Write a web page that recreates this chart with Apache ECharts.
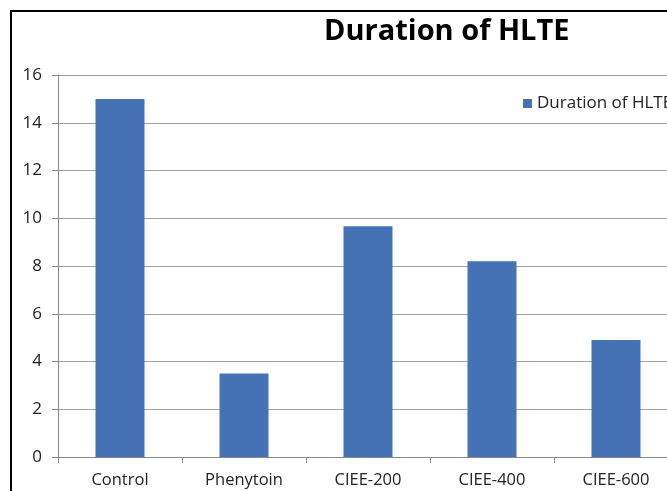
<!DOCTYPE html>
<html>
<head>
<meta charset="utf-8">
<script src="https://cdn.jsdelivr.net/npm/echarts@6/dist/echarts.min.js"></script>
<style>
  html, body { margin: 0; padding: 0; background: #fff; }
  #chart { width: 667px; height: 491px; }
</style>
</head>
<body>
<div id="chart"></div>
<script>
const categories = ["Control", "Phenytoin", "CIEE-200", "CIEE-400", "CIEE-600"];
const durationValues = [15, 3.5, 9.67, 8.2, 4.9];
const seriesName = "Duration of HLTE";

const chart = echarts.init(document.getElementById("chart"), null, { renderer: "canvas" });

const font = "'Open Sans', sans-serif";

const option = {
  animation: false,
  title: {
    text: "Duration of HLTE",
    left: 319,
    top: 12,
    textStyle: { fontFamily: font, fontSize: 29, fontWeight: "bold", color: "#000" },
  },
  legend: {
    left: 518,
    top: 90,
    itemWidth: 9,
    itemHeight: 9,
    itemGap: 8,
    textStyle: { fontFamily: font, fontSize: 17, color: "#222" },
    data: [{ name: seriesName, icon: "rect" }],
  },
  grid: { left: 58, top: 75, right: -11, bottom: 34, outerBoundsMode: "none", containLabel: false },
  xAxis: {
    type: "category",
    data: categories,
    axisLine: { lineStyle: { color: "#888", width: 1 } },
    axisTick: { show: true, length: 6, lineStyle: { color: "#888" } },
    axisLabel: { fontFamily: font, fontSize: 16.5, color: "#222", margin: 15 },
  },
  yAxis: {
    type: "value",
    min: 0,
    max: 16,
    interval: 2,
    axisLine: { show: true, lineStyle: { color: "#888" } },
    axisTick: { show: true, length: 6, lineStyle: { color: "#888" } },
    axisLabel: { fontFamily: font, fontSize: 17, color: "#222", margin: 16 },
    splitLine: { lineStyle: { color: "#a0a0a0", width: 1 } },
  },
  series: [
    {
      name: seriesName,
      type: "bar",
      data: durationValues,
      barWidth: 49,
      itemStyle: { color: "#4572B4" },
    },
  ],
  graphic: [
    {
      type: "rect",
      shape: { x: 11, y: 11, width: 700, height: 520 },
      style: { fill: "none", stroke: "#000", lineWidth: 2 },
      z: 100,
    },
  ],
};

chart.setOption(option);
window.addEventListener("resize", chart.resize);
</script>
</body>
</html>
